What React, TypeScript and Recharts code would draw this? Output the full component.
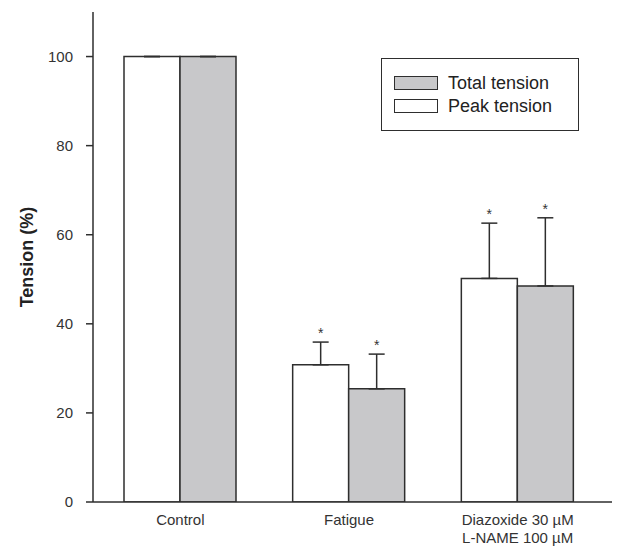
import { BarChart, Bar, XAxis, YAxis, ErrorBar, LabelList, Legend } from 'recharts';

const groups = ['Control', 'Fatigue', 'Diazoxide 30 µM\nL-NAME 100 µM'];
const peakTension = [100, 30.8, 50.2];
const peakSem = [0, 5.1, 12.4];
const totalTension = [100, 25.4, 48.5];
const totalSem = [0, 7.8, 15.3];
const stars = ['', '*', '*'];
const yTicks = [0, 20, 40, 60, 80, 100];

const data = groups.map((g, i) => ({
  group: g,
  peak: peakTension[i],
  peakErr: [0, peakSem[i]],
  peakSem: peakSem[i],
  total: totalTension[i],
  totalErr: [0, totalSem[i]],
  totalSem: totalSem[i],
  star: stars[i],
}));

const FONT = '"Liberation Sans", Arial, sans-serif';
const INK = '#2e2e2e';
const GREY = '#c8c8ca';

function CategoryTick(props: any) {
  const { x, y, payload } = props;
  const lines = String(payload.value).split('\n');
  return (
    <text x={x} y={y} textAnchor="middle" fontFamily={FONT} fontSize={15} fill="#333">
      {lines.map((l, i) => (
        <tspan key={i} x={x} dy={i === 0 ? 23 : 18}>
          {l}
        </tspan>
      ))}
    </text>
  );
}

// asterisk above the error bar cap; pixel offset via bar height / value
function starLabel(values: number[], sems: number[]) {
  return (props: any) => {
    const { x, y, width, height, index } = props;
    if (!stars[index]) return null;
    const pxPerUnit = height / values[index];
    const capY = y - sems[index] * pxPerUnit;
    return (
      <text x={x + width / 2} y={capY - 4} textAnchor="middle" fontFamily={FONT} fontSize={14} fill="#333">
        {stars[index]}
      </text>
    );
  };
}

function YLabel(props: any) {
  const { viewBox } = props;
  const cy = viewBox.y + viewBox.height / 2;
  const cx = 27;
  return (
    <text
      x={cx}
      y={cy}
      transform={`rotate(-90 ${cx} ${cy})`}
      textAnchor="middle"
      dominantBaseline="central"
      fontFamily={FONT}
      fontSize={18}
      fontWeight="bold"
      fill="#222"
    >
      Tension (%)
    </text>
  );
}

function LegendBox() {
  const rows = [
    { label: 'Total tension', fill: GREY, top: 17 },
    { label: 'Peak tension', fill: '#fff', top: 40 },
  ];
  return (
    <div
      style={{
        position: 'relative',
        width: 198,
        height: 73,
        boxSizing: 'border-box',
        border: `1.5px solid ${INK}`,
        background: '#fff',
        fontFamily: FONT,
      }}
    >
      {rows.map((r) => (
        <div key={r.label}>
          <div
            style={{
              position: 'absolute',
              left: 12,
              top: r.top,
              width: 44,
              height: 14,
              boxSizing: 'border-box',
              border: `1.5px solid ${INK}`,
              background: r.fill,
            }}
          />
          <div
            style={{
              position: 'absolute',
              left: 66,
              top: r.top - 4,
              fontSize: 18,
              lineHeight: '22px',
              color: '#222',
              whiteSpace: 'nowrap',
            }}
          >
            {r.label}
          </div>
        </div>
      ))}
    </div>
  );
}

export default function App() {
  return (
    <div style={{ width: 618, height: 546, background: '#fff' }}>
      <style>{'body{margin:0}'}</style>
      <BarChart
        width={618}
        height={546}
        data={data}
        margin={{ top: 12, right: 6, left: 0, bottom: 0 }}
        barGap={0}
        barSize={56}
      >
        <XAxis
          dataKey="group"
          height={44}
          padding={{ left: 3, right: 10 }}
          axisLine={{ stroke: INK, strokeWidth: 1.5 }}
          tickLine={false}
          tickSize={0}
          tickMargin={0}
          tick={<CategoryTick />}
          interval={0}
        />
        <YAxis
          width={93}
          domain={[0, 110]}
          ticks={yTicks}
          allowDataOverflow
          axisLine={{ stroke: INK, strokeWidth: 1.5 }}
          tickLine={{ stroke: INK, strokeWidth: 1.5 }}
          tickSize={7}
          tickMargin={13}
          tick={{ fontFamily: FONT, fontSize: 15, fill: '#333' }}
          label={<YLabel />}
        />
        <Legend
          layout="horizontal"
          verticalAlign="middle"
          align="center"
          content={() => <LegendBox />}
          wrapperStyle={{ position: 'absolute', left: 381, top: 58, width: 198, height: 73 }}
        />
        <Bar dataKey="peak" name="Peak tension" fill="#fff" stroke={INK} strokeWidth={1.5} isAnimationActive={false}>
          <ErrorBar dataKey="peakErr" width={8} stroke={INK} strokeWidth={1.5} direction="y" />
          <LabelList dataKey="peakSem" content={starLabel(peakTension, peakSem)} />
        </Bar>
        <Bar dataKey="total" name="Total tension" fill={GREY} stroke={INK} strokeWidth={1.5} isAnimationActive={false}>
          <ErrorBar dataKey="totalErr" width={8} stroke={INK} strokeWidth={1.5} direction="y" />
          <LabelList dataKey="totalSem" content={starLabel(totalTension, totalSem)} />
        </Bar>
      </BarChart>
    </div>
  );
}
